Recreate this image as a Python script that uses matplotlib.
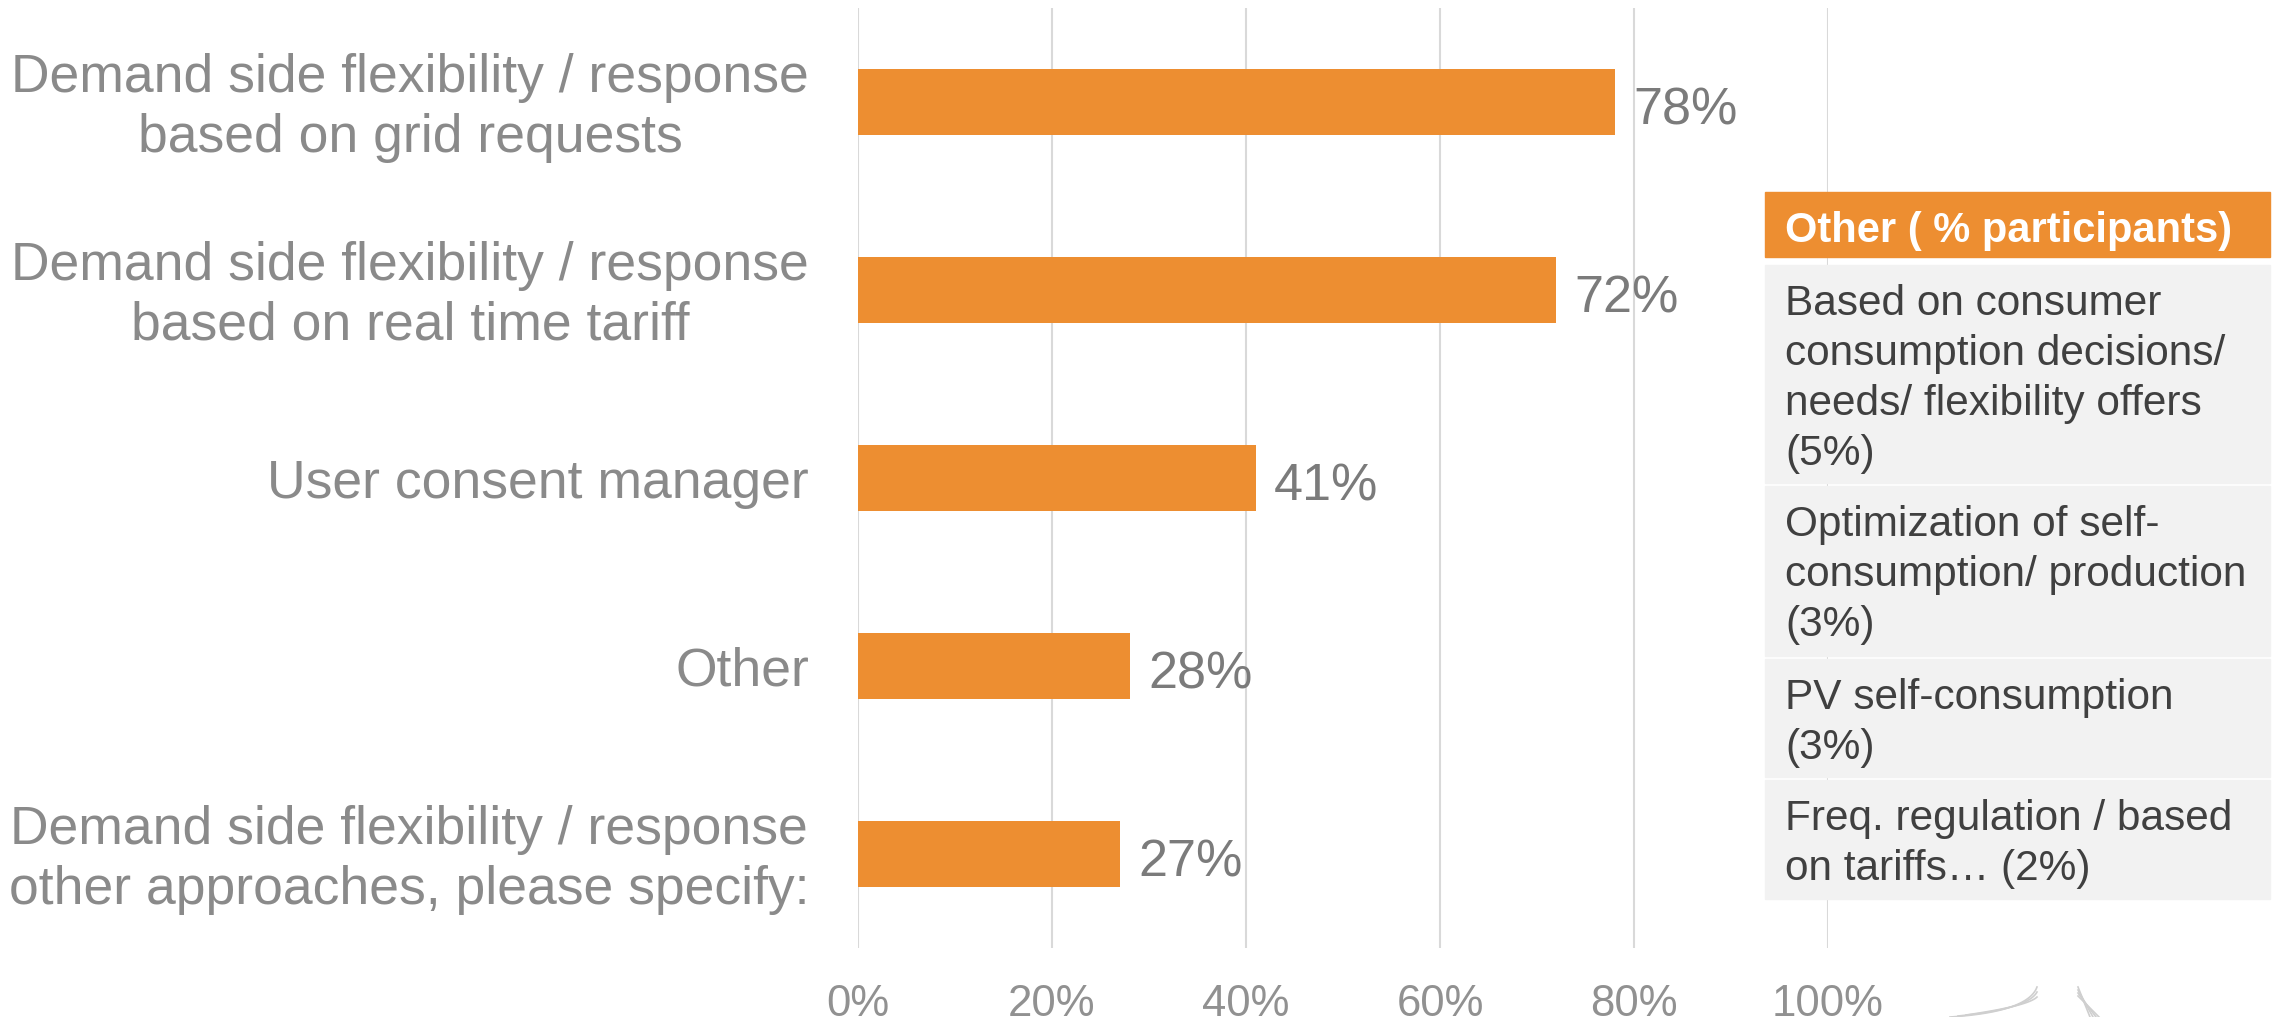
import numpy as np
import matplotlib.pyplot as plt
from matplotlib.patches import Rectangle
from matplotlib.lines import Line2D

plt.rcParams['font.family'] = ['Liberation Sans', 'DejaVu Sans']

# survey answers, top to bottom
categories = [
    "Demand side flexibility / response\nbased on grid requests",
    "Demand side flexibility / response\nbased on real time tariff",
    "User consent manager",
    "Other",
    "Demand side flexibility / response\nother approaches, please specify:",
]
values = [78, 72, 41, 28, 27]
xticks = [0, 20, 40, 60, 80, 100]

# breakdown of the "Other" answers shown in the side box
other_title = "Other ( % participants)"
other_items = [
    "Based on consumer\nconsumption decisions/\nneeds/ flexibility offers\n(5%)",
    "Optimization of self-\nconsumption/ production\n(3%)",
    "PV self-consumption\n(3%)",
    "Freq. regulation / based\non tariffs… (2%)",
]

ORANGE = '#ED8E31'
W, H = 2274, 1017

fig = plt.figure(figsize=(W / 100, H / 100), dpi=100)


def fx(px):
    return px / W


def fy(py):
    return 1 - py / H


ax = fig.add_axes([fx(858), fy(948), fx(1828) - fx(858), 940 / H])

y = np.arange(len(values))
ax.barh(y, values, height=0.355, color=ORANGE, zorder=3)
ax.set_ylim(len(values) - 0.5, -0.5)
ax.set_xlim(0, 100)

# value labels next to the bars
for i, v in enumerate(values):
    ax.text(v + 1.9, i + 0.12, f"{v}%", va='baseline', ha='left',
            fontsize=37.5, color='#7b7b7b')

# category names, right aligned against the axis
ax.set_yticks(y)
ax.set_yticklabels([])
ax.tick_params(axis='y', length=0)
for i, name in enumerate(categories):
    ax.text(-0.0505, i + 0.03, name, transform=ax.get_yaxis_transform(),
            ha='right', va='center', multialignment='center',
            fontsize=38.5, color='#8a8a8a', linespacing=1.25)

ax.set_xticks(xticks)
ax.set_xticklabels([f"{t}%" for t in xticks], fontsize=31.5, color='#919191')
ax.tick_params(axis='x', length=0, pad=26)
ax.grid(axis='x', color='#d9d9d9', linewidth=1.5, zorder=0)
for s in ax.spines.values():
    s.set_visible(False)

# side box with the "Other" breakdown
left, right = 1765, 2270
fig.add_artist(Rectangle((fx(left), fy(257)), fx(right) - fx(left), 65 / H,
                         transform=fig.transFigure, color=ORANGE, zorder=5))
fig.text(fx(1785), fy(211), other_title, fontsize=30, fontweight='bold',
         color='white', va='top', ha='left', zorder=6)

rows = [(265, 483), (486, 656), (659, 777), (780, 899)]
for (top, bottom), item in zip(rows, other_items):
    fig.add_artist(Rectangle((fx(left), fy(bottom)), fx(right) - fx(left), (bottom - top) / H,
                             transform=fig.transFigure, color='#f2f2f2', zorder=5))
    fig.text(fx(1785), fy(top + 19), item, fontsize=30.5, color='#404040',
             va='top', ha='left', linespacing=1.32, zorder=6)

# faint logo in the corner
t = np.linspace(0, 1, 30)
for k in range(3):
    x0, y0 = 1950 + k * 8, 1017 - k * 1
    cx, cy = 2028, 1012 - k * 3
    x1, y1 = 2037, 987 + k * 5
    bx = (1 - t) ** 2 * x0 + 2 * (1 - t) * t * cx + t ** 2 * x1
    by = (1 - t) ** 2 * y0 + 2 * (1 - t) * t * cy + t ** 2 * y1
    fig.add_artist(Line2D(fx(bx), fy(by), color='#cfcfcf', linewidth=1.2))
for k in range(4):
    fig.add_artist(Line2D([fx(2078), fx(2090 + k * 3)], [fy(987 + k * 3), fy(1017)],
                          color='#cfcfcf', linewidth=1.2))

fig.savefig("out.png", dpi=100)
